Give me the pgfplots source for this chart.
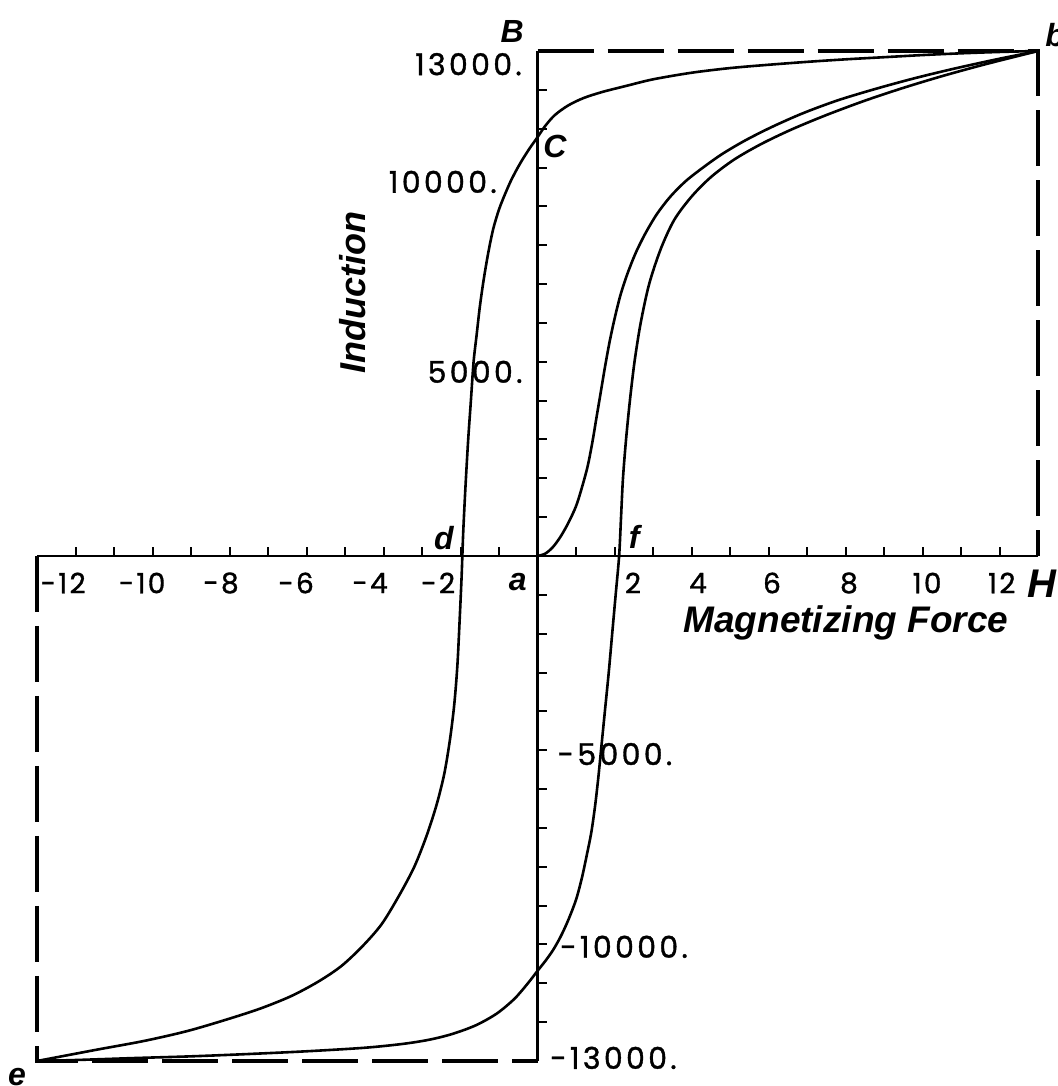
\documentclass[border=0pt]{standalone}
\usepackage{fontspec}
\setmainfont{Liberation Sans}
\newfontfamily\numfont[LetterSpace=8,FakeBold=1.2]{Poppins}
\newfontfamily\ynumfont[LetterSpace=11,FakeBold=1.2]{Poppins}
\usepackage{pgfplots}
\pgfplotsset{compat=1.18}
\newcommand{\lab}[1]{{\fontsize{16}{16}\selectfont\bfseries\itshape #1}}
\newcommand{\num}[1]{{\numfont\fontsize{14}{14}\selectfont #1}}
\newcommand{\ynum}[1]{{\ynumfont\fontsize{15}{15}\selectfont #1}}
\begin{document}
\begin{tikzpicture}
\begin{axis}[
  width=500.5pt, height=505pt, scale only axis,
  xmin=-13, xmax=13, ymin=-13000, ymax=13000,
  axis lines=middle,
  axis line style={line width=1.3pt, -},
  xtick={-12,-11,...,-1,1,2,...,12},
  ytick={-12000,-11000,...,-1000,1000,2000,...,12000},
  xticklabels={}, yticklabels={},
  scaled y ticks=false,
  tick align=inside,
  major tick length=4.5pt,
  tick style={line width=1pt, black},
  clip=false,
]
% dashed frame
\addplot[black, line width=1.6pt, dash pattern=on 28pt off 7pt] coordinates {(0,13000) (13,13000) (13,0)};
\addplot[black, line width=1.6pt, dash pattern=on 28pt off 7pt] coordinates {(-13,0) (-13,-13000) (0,-13000)};
% initial magnetization curve a -> b
\addplot[black, line width=1.3pt, smooth, tension=0.5] coordinates {
(0,0) (0.2,60) (0.4,230) (0.6,500) (0.8,850) (1.0,1280) (1.15,1750)
(1.3,2300) (1.42,2900) (1.53,3550) (1.64,4200) (1.75,4850) (1.87,5500)
(2.0,6100) (2.15,6700) (2.33,7250) (2.55,7800) (2.8,8300) (3.1,8800)
(3.45,9250) (3.85,9650) (4.3,10000) (4.8,10350) (5.4,10700) (6.1,11050)
(6.9,11400) (7.8,11730) (8.8,12030) (9.8,12300) (10.8,12540) (11.9,12780)
(13,13000)};
% descending branch b -> C -> d -> e
\addplot[black, line width=1.3pt, smooth, tension=0.5] coordinates {
(13,13000) (12,12975) (11,12940) (10,12895) (9,12840) (8,12785) (7,12720)
(6,12645) (5,12560) (4,12440) (3,12270) (2.3,12100) (1.7,11950)
(1.2,11790) (0.8,11600) (0.45,11350) (0.2,11070) (0,10780) (-0.2,10500)
(-0.4,10190) (-0.55,9930) (-0.7,9640) (-0.85,9300) (-1.0,8920)
(-1.15,8420) (-1.28,7800) (-1.4,7100) (-1.5,6400) (-1.58,5700) (-1.66,5000)
(-1.73,4000) (-1.8,3000) (-1.87,1800) (-1.93,600) (-1.97,-500)
(-2.02,-1600) (-2.08,-2800) (-2.16,-3800) (-2.27,-4700) (-2.42,-5600)
(-2.62,-6400) (-2.88,-7200) (-3.2,-8000) (-3.6,-8750) (-4.05,-9480)
(-4.55,-10050) (-5.1,-10560) (-5.7,-10960) (-6.4,-11330) (-7.2,-11650)
(-8.1,-11940) (-9.1,-12230) (-10.2,-12480) (-11.4,-12700) (-12.2,-12850)
(-13,-13000)};
% ascending branch e -> f -> b
\addplot[black, line width=1.3pt, smooth, tension=0.5] coordinates {
(-13,-13000) (-12,-12975) (-10.5,-12925) (-9,-12880) (-7.5,-12820)
(-6,-12750) (-4.5,-12660) (-3.5,-12560) (-2.8,-12450) (-2.2,-12300)
(-1.6,-12080) (-1.06,-11780) (-0.6,-11400) (-0.25,-11000) (0,-10680)
(0.2,-10430) (0.4,-10150) (0.6,-9800) (0.8,-9370) (1.0,-8850)
(1.15,-8300) (1.28,-7700) (1.4,-7100) (1.5,-6400) (1.58,-5700)
(1.65,-5000) (1.75,-4000) (1.85,-3000) (1.94,-2000) (2.03,-1000) (2.12,0)
(2.17,1000) (2.22,2000) (2.3,3000) (2.4,4000) (2.52,5000) (2.68,6000)
(2.9,7000) (3.2,7900) (3.55,8650) (4.0,9250) (4.5,9750) (5.1,10200)
(5.8,10600) (6.6,10980) (7.5,11350) (8.5,11720) (9.5,12050) (10.5,12350)
(11.6,12650) (13,13000)};
% tick labels
\node[inner sep=0] at (axis cs:-12.32,-695) {\num{-12}};
\node[inner sep=0] at (axis cs:-10.27,-695) {\num{-10}};
\node[inner sep=0] at (axis cs:-8.22,-695) {\num{-8}};
\node[inner sep=0] at (axis cs:-6.27,-695) {\num{-6}};
\node[inner sep=0] at (axis cs:-4.35,-695) {\num{-4}};
\node[inner sep=0] at (axis cs:-2.58,-695) {\num{-2}};
\node[inner sep=0] at (axis cs:2.48,-695) {\num{2}};
\node[inner sep=0] at (axis cs:4.17,-695) {\num{4}};
\node[inner sep=0] at (axis cs:6.09,-695) {\num{6}};
\node[inner sep=0] at (axis cs:8.09,-695) {\num{8}};
\node[inner sep=0] at (axis cs:10.12,-695) {\num{10}};
\node[inner sep=0] at (axis cs:12.06,-695) {\num{12}};
\node[inner sep=0, anchor=east] at (axis cs:-0.40,12660) {\ynum{13000.}};
\node[inner sep=0, anchor=east] at (axis cs:-1.05,9630) {\ynum{10000.}};
\node[inner sep=0, anchor=east] at (axis cs:-0.38,4740) {\ynum{5000.}};
\node[inner sep=0, anchor=west] at (axis cs:0.51,-5100) {\ynum{-5000.}};
\node[inner sep=0, anchor=west] at (axis cs:0.58,-10060) {\ynum{-10000.}};
\node[inner sep=0, anchor=west] at (axis cs:0.32,-12920) {\ynum{-13000.}};
% letters
\node[inner sep=0] at (axis cs:-0.66,13490) {\lab{B}};
\node[inner sep=0] at (axis cs:0.45,10530) {\lab{C}};
\node[inner sep=0, anchor=west] at (axis cs:13.18,13410) {\lab{b}};
\node[inner sep=0] at (axis cs:-2.43,460) {\lab{d}};
\node[inner sep=0] at (axis cs:2.51,490) {\lab{f}};
\node[inner sep=0] at (axis cs:-0.51,-670) {\lab{a}};
\node[inner sep=0] at (axis cs:13.1,-720) {\fontsize{20}{20}\selectfont\bfseries\itshape H};
\node[inner sep=0] at (axis cs:-13.52,-13410) {\lab{e}};
\node[inner sep=0, rotate=90] at (axis cs:-4.79,6795) {\fontsize{18}{18}\selectfont\bfseries\itshape Induction};
\node[inner sep=0] at (axis cs:8.01,-1725) {\fontsize{18.5}{18.5}\selectfont\bfseries\itshape Magnetizing Force};
\coordinate (SW) at (axis cs:-13,-13000);
\coordinate (NE) at (axis cs:13,13000);
\end{axis}
\pgfresetboundingbox
\path[use as bounding box] ([shift={(-18.5pt,-12.5pt)}]SW) rectangle ([shift={(10pt,25.5pt)}]NE);
\end{tikzpicture}
\end{document}
